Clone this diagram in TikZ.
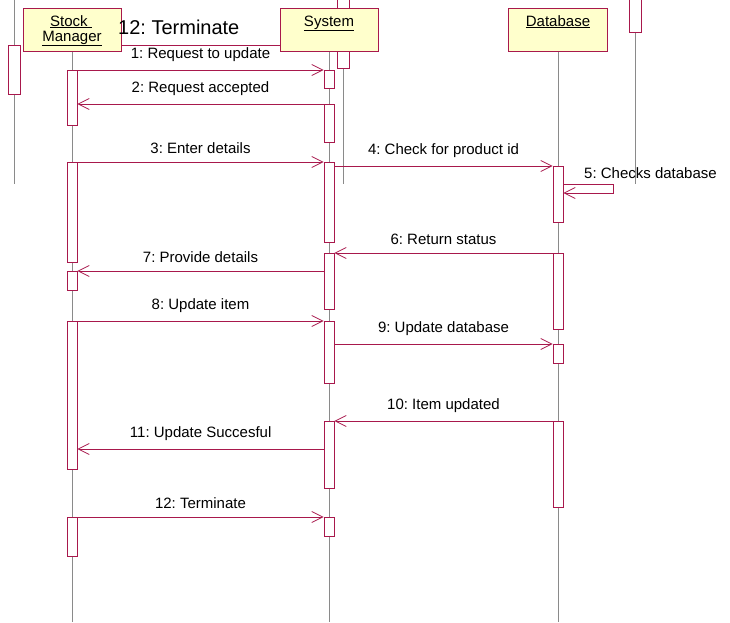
\documentclass[tikz,border=0pt]{standalone}
\usepackage{fontspec}
\setmainfont{Liberation Sans}
\usetikzlibrary{arrows.meta,calc}
\definecolor{umlred}{HTML}{A8184C}
\definecolor{umlfill}{HTML}{FFFFCC}
\definecolor{lifegray}{HTML}{8A8A8A}
\frenchspacing
\begin{document}
\frenchspacing
\begin{tikzpicture}[x=1pt,y=-1pt,
  objbox/.style={draw=umlred, fill=umlfill, line width=0.9pt, minimum width=98pt, minimum height=43pt, inner sep=0pt, anchor=north},
  boxtxt/.style={font=\fontsize{15}{15}\selectfont, inner sep=0pt, anchor=base},
  actbar/.style={draw=umlred, fill=white, line width=0.8pt, minimum width=10pt, inner sep=0pt, anchor=north},
  stray/.style={actbar, minimum width=12pt},
  life/.style={draw=lifegray, line width=0.8pt},
  umlline/.style={draw=umlred, line width=0.8pt},
  msg/.style={umlline, -{Straight Barb[length=11pt,width=11pt,line width=0.8pt]}},
  lbl/.style={font=\fontsize{15}{16}\selectfont, inner sep=0pt, above=8pt, midway}
]
\useasboundingbox (0,0) rectangle (730,622);

% stray elements of an overlapping diagram
\draw[life] (14,0) -- (14,184);
\node[stray, minimum height=49pt] (sa) at (14,45) {};
\node[stray, minimum height=71pt] (sb) at (343,-3) {};
\draw[life] (sb.south) -- (343,184);
\node[stray, minimum height=35pt] (sc) at (635,-3) {};
\draw[life] (sc.south) -- (635,184);

% objects
\node[objbox] (smbox) at (72,8) {};
\node[objbox] (sybox) at (329,8) {};
\node[objbox, minimum width=99pt] (dbbox) at (558,8) {};
\node[boxtxt] (smt1) at (71,26) {\underline{Stock\ }};
\node[boxtxt] (smt2) at (72,41) {\underline{Manager}};
\node[boxtxt] (syt) at (329,26) {\underline{System}};
\node[boxtxt] (dbt) at (558,26) {\underline{Database}};

% stray message
\draw[umlline] (smbox.east |- 0,45) -- (sybox.west |- 0,45);
\node[font=\fontsize{20}{22}\selectfont, inner sep=0pt, anchor=base west] (big) at (118,34) {12: Terminate};

% lifelines
\draw[life] (smbox.south) -- (72,622);
\draw[life] (sybox.south) -- (329,622);
\draw[life] (dbbox.south) -- (558,622);

% activation bars: Stock Manager
\node[actbar, minimum height=55pt] (sm1) at (72,70) {};
\node[actbar, minimum height=100pt] (sm2) at (72,162) {};
\node[actbar, minimum height=19pt] (sm3) at (72,271) {};
\node[actbar, minimum height=148pt] (sm4) at (72,321) {};
\node[actbar, minimum height=39pt] (sm5) at (72,517) {};
% System
\node[actbar, minimum height=18pt] (sy1) at (329,70) {};
\node[actbar, minimum height=38pt] (sy2) at (329,104) {};
\node[actbar, minimum height=80pt] (sy3) at (329,162) {};
\node[actbar, minimum height=56pt] (sy4) at (329,253) {};
\node[actbar, minimum height=62pt] (sy5) at (329,321) {};
\node[actbar, minimum height=67pt] (sy6) at (329,421) {};
\node[actbar, minimum height=19pt] (sy7) at (329,517) {};
% Database
\node[actbar, minimum height=56pt] (db1) at (558,166) {};
\node[actbar, minimum height=76pt] (db2) at (558,253) {};
\node[actbar, minimum height=19pt] (db3) at (558,344) {};
\node[actbar, minimum height=86pt] (db4) at (558,421) {};

% messages
\draw[msg] (sm1.north east) -- node[lbl] (l1) {1: Request to update} (sy1.north west);
\draw[msg] (sy2.north west) -- node[lbl] (l2) {2: Request accepted} (sy2.north west -| sm1.east);
\draw[msg] (sm2.north east) -- node[lbl] (l3) {3: Enter details} (sy3.north west);
\draw[msg] (db1.north west -| sy3.east) -- node[lbl] (l4) {4: Check for product id} (db1.north west);
\coordinate (s5a) at (613,184);
\coordinate (s5b) at (613,193);
\draw[msg] (s5a -| db1.east) -- (s5a) -- (s5b) -- (s5b -| db1.east);
\node[font=\fontsize{15}{16}\selectfont, inner sep=0pt, anchor=base west] (l5) at (584,178) {5: Checks database};
\draw[msg] (db2.north west) -- node[lbl] (l6) {6: Return status} (sy4.north east);
\draw[msg] (sm3.north -| sy4.west) -- node[lbl] (l7) {7: Provide details} (sm3.north east);
\draw[msg] (sm4.north east) -- node[lbl] (l8) {8: Update item} (sy5.north west);
\draw[msg] (db3.north west -| sy5.east) -- node[lbl] (l9) {9: Update database} (db3.north west);
\draw[msg] (db4.north west) -- node[lbl] (l10) {10: Item updated} (sy6.north east);
\coordinate (m11) at (324,449);
\draw[msg] (m11) -- node[lbl] (l11) {11: Update Succesful} (m11 -| sm4.east);
\draw[msg] (sm5.north east) -- node[lbl] (l12) {12: Terminate} (sy7.north west);
\end{tikzpicture}
\end{document}
